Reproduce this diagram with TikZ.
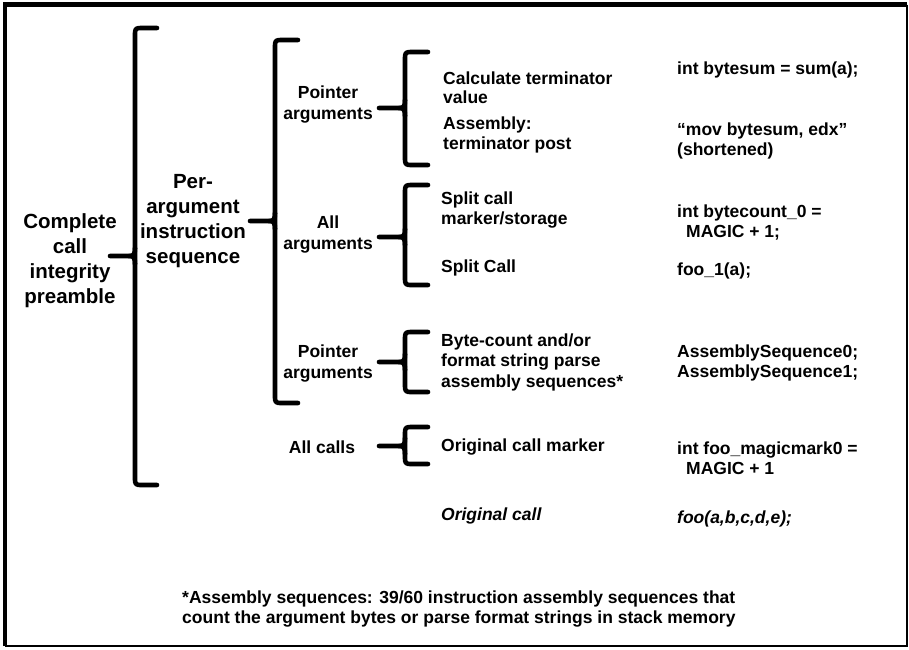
\documentclass[tikz,border=0pt]{standalone}
\usepackage{fontspec}
\setmainfont{Liberation Sans}
\newcommand{\mybrace}[6]{%
  \draw[brc] (#6,#2) -- ({#1+8},#2) .. controls (#1,#2) .. (#1,{#2+8}) -- (#1,{#3-8}) .. controls (#1,#3) .. ({#1+8},#3) -- (#6,#3);
  \draw[brc] (#5,#4) -- ({#1-6},#4) .. controls ({#1-1},#4) and (#1,{#4-2}) .. (#1,{#4-8});
  \draw[brc] ({#1-6},#4) .. controls ({#1-1},#4) and (#1,{#4+2}) .. (#1,{#4+8});
}
\begin{document}
\begin{tikzpicture}[x=1pt,y=-1pt,
  brc/.style={line width=4.6pt,line cap=round,line join=round},
  big/.style={font=\fontsize{20.5}{25}\selectfont\bfseries,align=center,inner sep=0pt},
  lab/.style={font=\fontsize{17.5}{21}\selectfont\bfseries,align=center,inner sep=0pt},
  txt/.style={font=\fontsize{17.5}{20.5}\selectfont\bfseries,align=left,anchor=west,inner sep=0pt},
  txts/.style={txt,font=\fontsize{17.5}{19}\selectfont\bfseries}]
\useasboundingbox (0,0) rectangle (909,649);
\fill[white] (0,0) rectangle (909,649);
% frame
\draw[line width=4.5pt] (5,646) -- (5,4.5) -- (907,4.5);
\draw[line width=2.2pt] (907,4.5) -- (907,646) -- (5,646);
% braces
\mybrace{135}{28}{485}{256}{110}{157}
\mybrace{275}{40}{403}{221}{250}{298}
\mybrace{405}{52}{165}{108}{379}{428}
\mybrace{405}{185}{285}{237}{379}{428}
\mybrace{405}{332}{392}{362}{379}{428}
\mybrace{405}{427}{464}{446}{379}{428}
% level labels
\node[big] (pre) at (70,260.5) {Complete\\call\\integrity\\preamble};
\node[big] (per) at (193,221) {Per-\\argument\\instruction\\sequence};
\node[lab] (pa1) at (328,104.5) {Pointer\\arguments};
\node[lab] (aa) at (328,235) {All\\arguments};
\node[lab] (pa2) at (328,363.5) {Pointer\\arguments};
\node[lab] (ac) at (322,447) {All calls};
% items
\node[txts] (ct) at (443,87.5) {Calculate terminator\\value};
\node[txt] (as) at (443,135) {Assembly:\\terminator post};
\node[txt] (sc) at (441,210) {Split call\\marker/storage};
\node[txt] (sC) at (441,268) {Split Call};
\node[txt] (bc) at (441,362) {Byte-count and/or\\format string parse\\assembly sequences*};
\node[txt] (om) at (441,447) {Original call marker};
\node[txt] (oc) at (441,516) {\itshape Original call};
% code
\node[txt] (c1) at (677,70) {int bytesum = sum(a);};
\node[txt] (c2) at (677,141) {“mov bytesum, edx”\\(shortened)};
\node[txt] (c3) at (677,222.5) {int bytecount\_0 =\\\hspace*{9pt}MAGIC + 1;};
\node[txt] (c4) at (677,271) {foo\_1(a);};
\node[txt] (c5) at (677,363) {AssemblySequence0;\\AssemblySequence1;};
\node[txt] (c6) at (677,458) {int foo\_magicmark0 =\\\hspace*{9pt}MAGIC + 1};
\node[txt] (c7) at (677,519) {\itshape foo(a,b,c,d,e);};
% footnote
\node[txt] (fn) at (182,609) {*Assembly sequences: 39/60 instruction assembly sequences that\\count the argument bytes or parse format strings in stack memory};
\end{tikzpicture}
\end{document}
